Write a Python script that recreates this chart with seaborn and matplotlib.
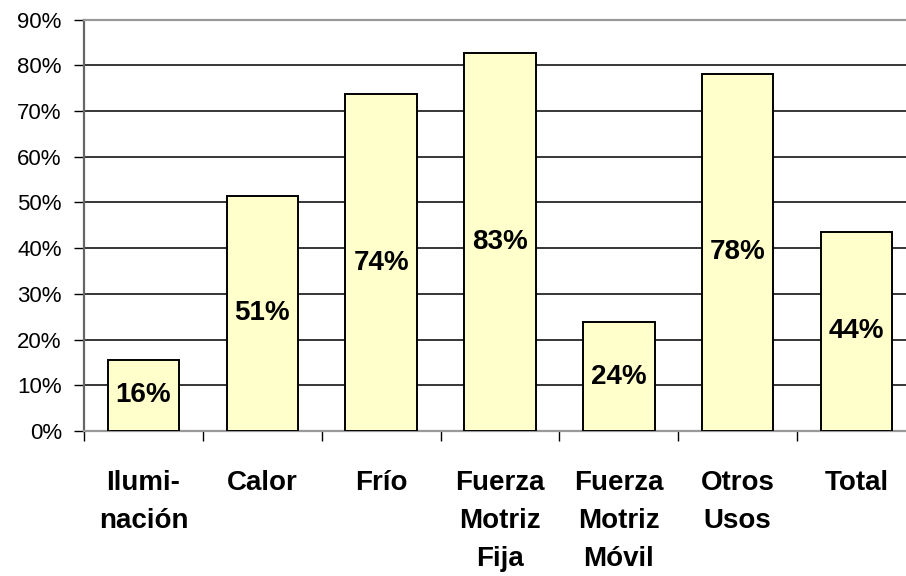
"""
Share per end use -- bar chart with value labels inside the bars.
"""

import matplotlib
matplotlib.use("Agg")
import matplotlib.pyplot as plt
from matplotlib.ticker import FixedLocator, PercentFormatter
import pandas as pd
import seaborn as sns

categories = ["Ilumi-\nnación", "Calor", "Frío", "Fuerza\nMotriz\nFija",
              "Fuerza\nMotriz\nMóvil", "Otros\nUsos", "Total"]
values = [15.6, 51.4, 73.6, 82.6, 23.8, 78.1, 43.6]
y_ticks = [0, 10, 20, 30, 40, 50, 60, 70, 80, 90]

BAR_COLOR = "#FFFFCC"

sns.set_style("white")
plt.rcParams["font.family"] = ["Liberation Sans", "DejaVu Sans"]
plt.rcParams["text.color"] = "black"
plt.rcParams["xtick.color"] = "black"
plt.rcParams["ytick.color"] = "black"

df = pd.DataFrame({"Uso": categories, "Valor": values})

fig = plt.figure(figsize=(9.06, 5.76), dpi=100)
ax = fig.add_axes([84 / 906, (576 - 431) / 576, (916 - 84) / 906, (431 - 19.5) / 576])

sns.barplot(data=df, x="Uso", y="Valor", ax=ax, color=BAR_COLOR,
            width=0.6, edgecolor="black", linewidth=1.4, saturation=1, zorder=3)

# value labels, centred inside each bar
for i, v in enumerate(values):
    ax.text(i, v / 2, f"{v:.0f}%", ha="center", va="center",
            fontsize=20, fontweight="bold", color="black", zorder=4)

ax.set_ylim(0, 90)
ax.set_xlim(-0.5, len(categories) - 0.5)
ax.set_yticks(y_ticks)
ax.yaxis.set_major_formatter(PercentFormatter(decimals=0))
ax.grid(True, axis="y", color="black", linewidth=1.1, zorder=0)
ax.set_axisbelow(True)

ax.xaxis.set_minor_locator(FixedLocator([i - 0.5 for i in range(len(categories) + 1)]))
ax.tick_params(axis="x", which="major", bottom=True, length=0, pad=28, labelsize=20,
               labelcolor="black")
ax.tick_params(axis="x", which="minor", bottom=True, length=7, width=1, color="black",
               direction="out")
ax.tick_params(axis="y", left=True, length=7, width=1, color="black", direction="out",
               labelsize=16, pad=9, labelcolor="black")
for lbl in ax.get_xticklabels():
    lbl.set_fontweight("bold")
    lbl.set_verticalalignment("top")
    lbl.set_linespacing(1.6)

ax.set_xlabel("")
ax.set_ylabel("")

for side in ["top", "left", "bottom"]:
    ax.spines[side].set_visible(True)
    ax.spines[side].set_color("#999999")
    ax.spines[side].set_linewidth(1.6)
ax.spines["left"].set_color("#666666")
ax.spines["right"].set_visible(False)

fig.savefig("out.png", dpi=100)
plt.close(fig)
